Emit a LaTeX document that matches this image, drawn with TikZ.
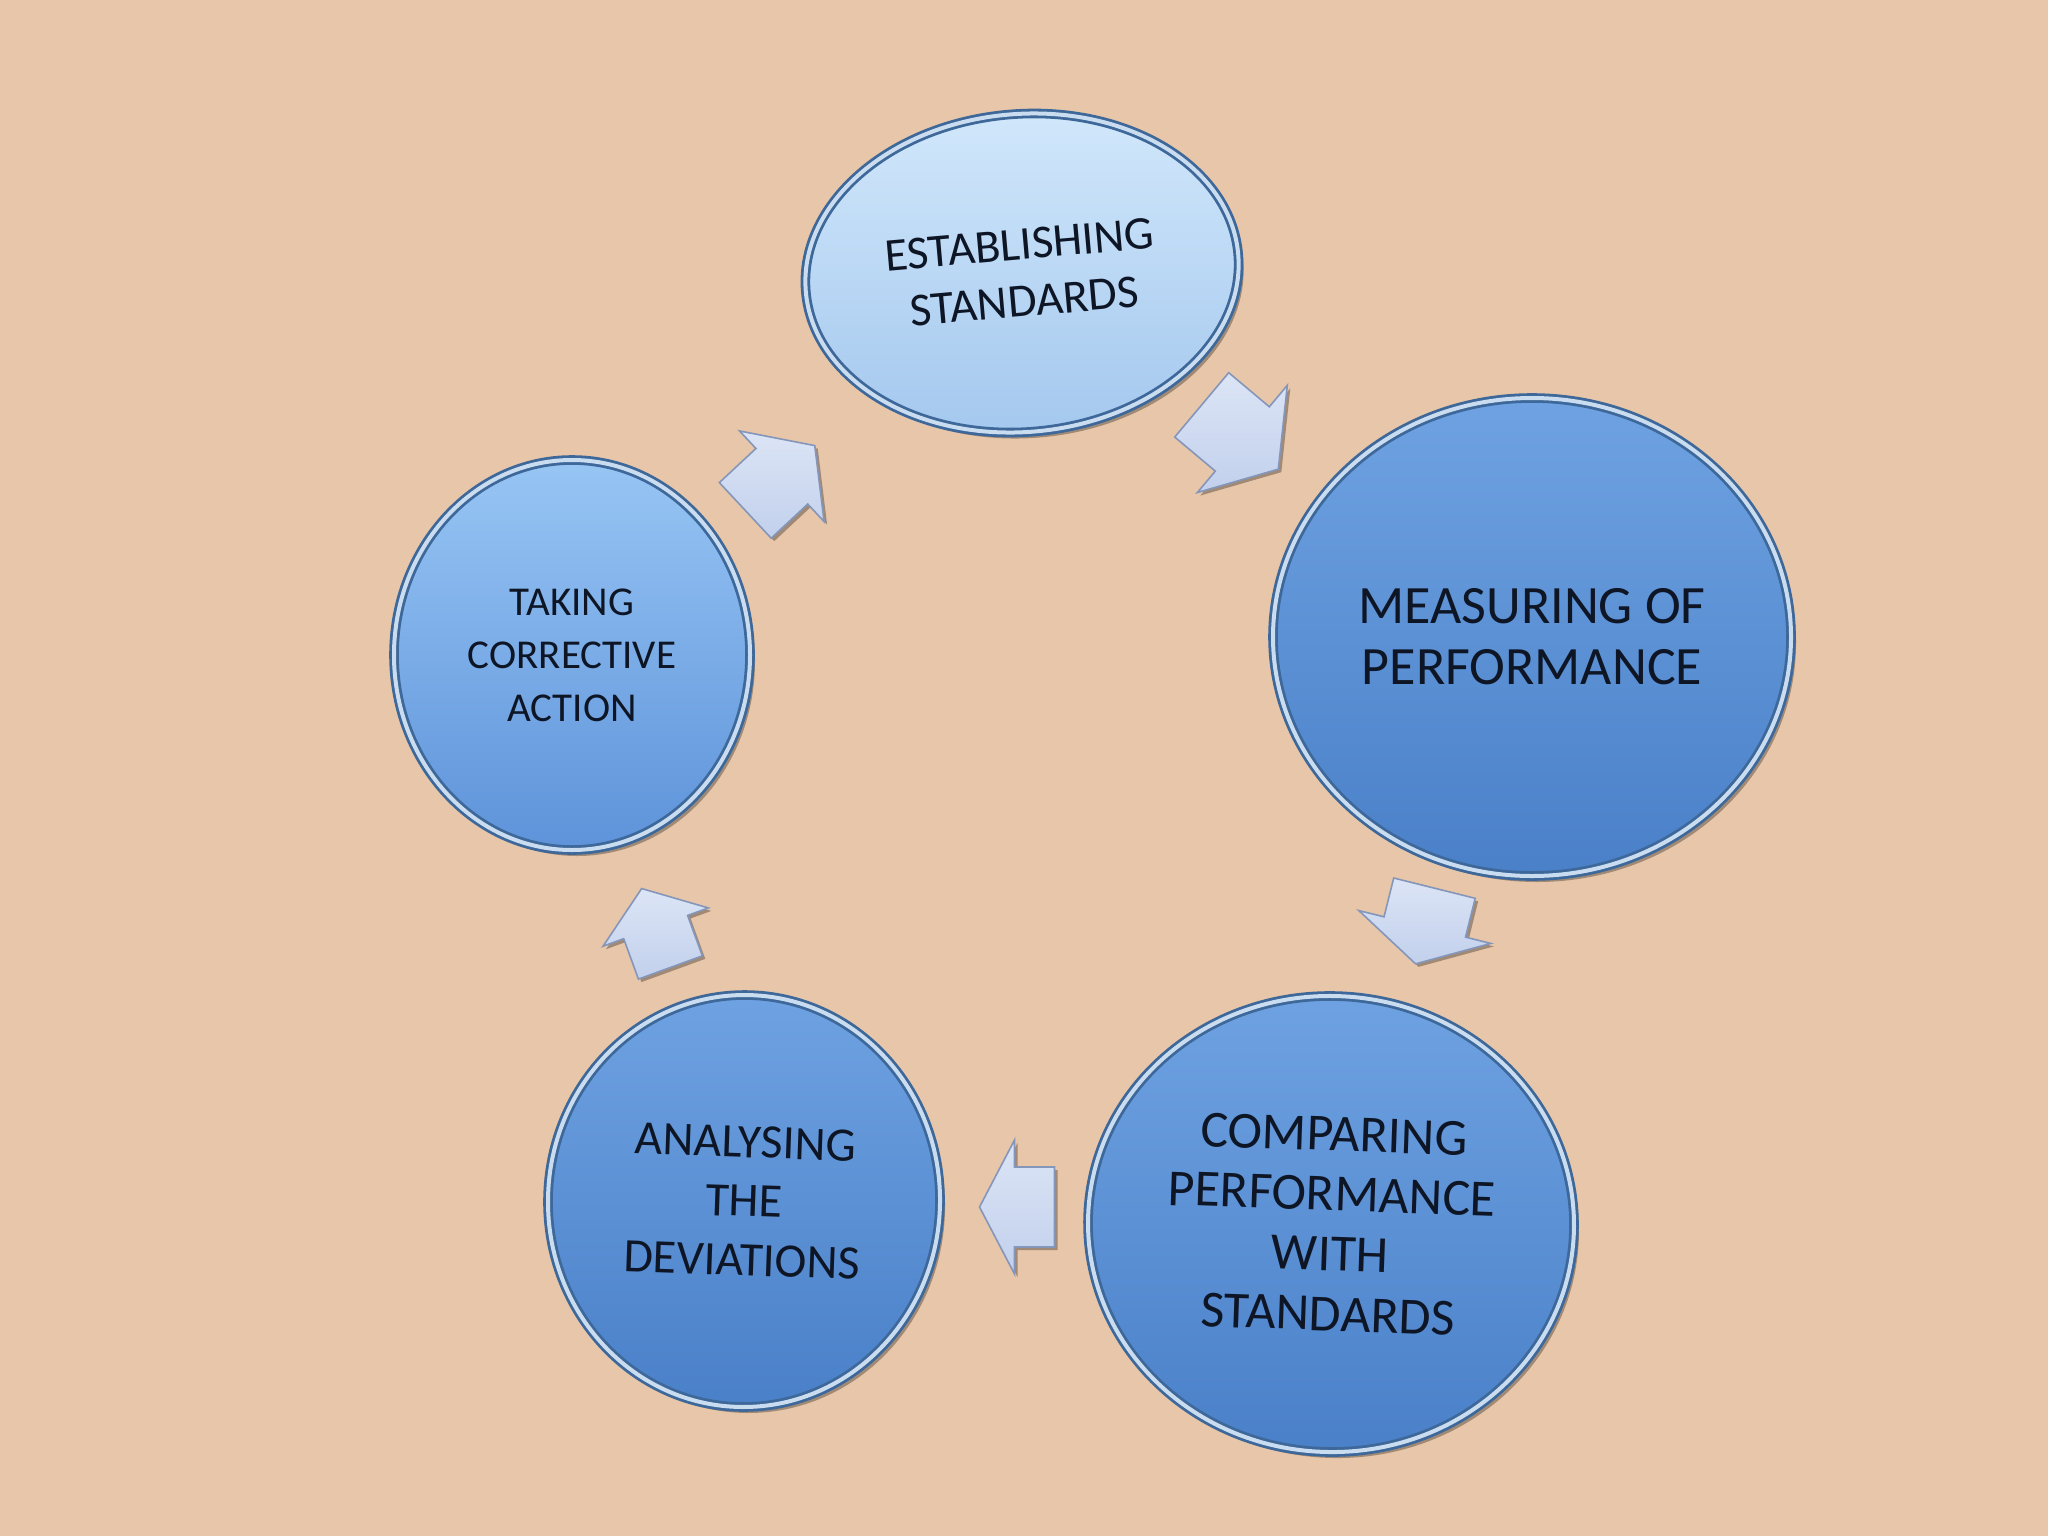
\documentclass[tikz,border=0pt]{standalone}
\usepackage{fontspec}
\setmainfont{Carlito}
\usetikzlibrary{shapes.geometric,shadows}
\definecolor{bg}{HTML}{E8C6A9}
\definecolor{txt}{HTML}{0E1626}
\definecolor{rimdark}{HTML}{3D6899}
\definecolor{rimlight}{HTML}{CADCF0}
\definecolor{estTop}{HTML}{D2E8FB}
\definecolor{estBot}{HTML}{A3C7EE}
\definecolor{midTop}{HTML}{6EA2E2}
\definecolor{midBot}{HTML}{4A80C8}
\definecolor{takeTop}{HTML}{97C5F4}
\definecolor{takeBot}{HTML}{5E93DA}
\definecolor{arrTop}{HTML}{DCE5F6}
\definecolor{arrBot}{HTML}{C2D0EC}
\definecolor{arrEdge}{HTML}{8496BA}
\newcommand\cyarr[7]{%
  \draw[cyarrow, shift={(#1,#2)}, rotate=#3]
    ({-#4/2},#7) -- ({#4/2-#5},#7) -- ({#4/2-#5},#6) -- ({#4/2},0)
    -- ({#4/2-#5},-#6) -- ({#4/2-#5},-#7) -- ({-#4/2},-#7) -- cycle;}
\begin{document}
\begin{tikzpicture}[x=0.5pt,y=-0.5pt,
  stage/.style={ellipse, inner sep=0pt, align=center, text=txt,
    draw=rimdark, double=rimlight, double distance=2pt, line width=1.4pt,
    drop shadow={opacity=0.3, shadow xshift=2.5pt, shadow yshift=-3pt, fill=black}},
  cyarrow/.style={top color=arrTop, bottom color=arrBot, draw=arrEdge,
    line width=0.8pt, line join=miter,
    drop shadow={opacity=0.3, shadow xshift=1.5pt, shadow yshift=-1.5pt, fill=black}}]
\fill[bg] (0,0) rectangle (2048,1536);
\useasboundingbox (0,0) rectangle (2048,1536);

\node[stage, top color=estTop, bottom color=estBot, rotate=5,
  minimum width=217pt, minimum height=159pt,
  font=\fontsize{23.5}{28.5}\selectfont] (est) at (1022,273)
  {ESTABLISHING\\STANDARDS};
\node[stage, top color=midTop, bottom color=midBot,
  minimum width=259pt, minimum height=239pt,
  font=\fontsize{27}{30.5}\selectfont] (meas) at (1532,637)
  {MEASURING OF\\PERFORMANCE};
\node[stage, top color=midTop, bottom color=midBot, rotate=-2,
  minimum width=243pt, minimum height=228pt,
  font=\fontsize{26}{30}\selectfont] (comp) at (1331,1224)
  {COMPARING\\PERFORMANCE\\WITH\\STANDARDS};
\node[stage, top color=midTop, bottom color=midBot, rotate=-2,
  minimum width=196pt, minimum height=206pt,
  font=\fontsize{24}{29.5}\selectfont] (anal) at (744,1201)
  {ANALYSING\\THE\\DEVIATIONS};
\node[stage, top color=takeTop, bottom color=takeBot,
  minimum width=178pt, minimum height=195pt,
  font=\fontsize{20.5}{26.5}\selectfont] (take) at (572,655)
  {TAKING\\CORRECTIVE\\ACTION};

% cycle arrows: x, y, angle, length, head length, head half-width, body half-width
\cyarr{1240}{437}{-40}{100}{47}{70}{42}
\cyarr{1425}{926}{-104}{78}{38}{68}{42}
\cyarr{1017}{1207}{180}{75}{35}{67}{40}
\cyarr{656}{928}{110}{84}{41}{56}{34}
\cyarr{780}{478}{43}{95}{45}{62}{38}
\end{tikzpicture}
\end{document}
